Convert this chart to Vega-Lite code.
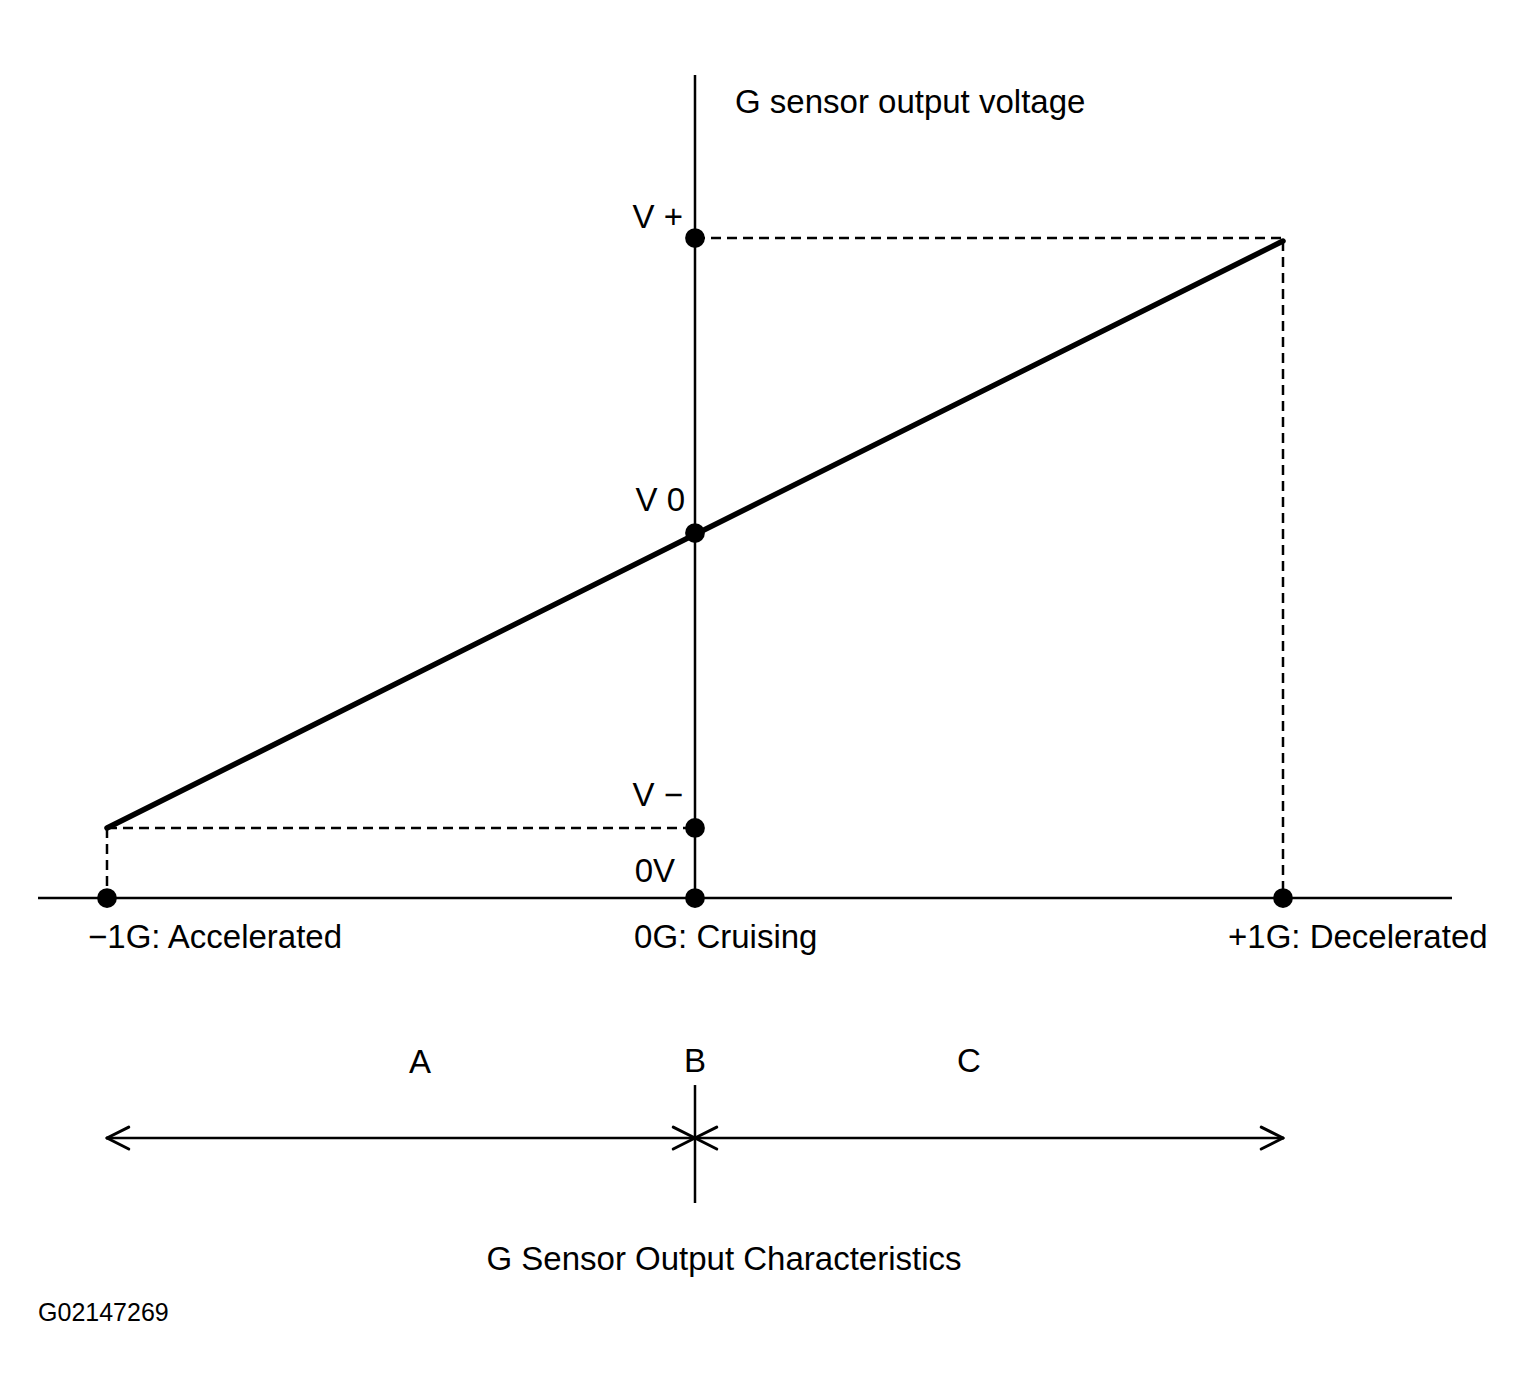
{
  "$schema": "https://vega.github.io/schema/vega-lite/v6.json",
  "width": 1529,
  "height": 1397,
  "autosize": {"type": "fit", "contains": "padding"},
  "padding": 0,
  "background": "white",
  "config": {"view": {"stroke": null}},
  "datasets": {
    "lines": [
      {"g": -1.1173, "v": 0, "g2": 1.2874, "v2": 0, "kind": "thin"},
      {"g": 0, "v": 0, "g2": 0, "v2": 5.637, "kind": "thin"},
      {"g": 0, "v": -1.281, "g2": 0, "v2": -2.089, "kind": "thin"},
      {"g": -1, "v": -1.644, "g2": 1, "v2": -1.644, "kind": "thin"},
      {"g": -1, "v": -1.644, "g2": -0.963, "v2": -1.569, "kind": "head"},
      {"g": -1, "v": -1.644, "g2": -0.963, "v2": -1.719, "kind": "head"},
      {"g": 0, "v": -1.644, "g2": -0.037, "v2": -1.569, "kind": "head"},
      {"g": 0, "v": -1.644, "g2": -0.037, "v2": -1.719, "kind": "head"},
      {"g": 0, "v": -1.644, "g2": 0.037, "v2": -1.569, "kind": "head"},
      {"g": 0, "v": -1.644, "g2": 0.037, "v2": -1.719, "kind": "head"},
      {"g": 1, "v": -1.644, "g2": 0.963, "v2": -1.569, "kind": "head"},
      {"g": 1, "v": -1.644, "g2": 0.963, "v2": -1.719, "kind": "head"},
      {"g": -1, "v": 0.48, "g2": 0, "v2": 0.48, "kind": "dashed"},
      {"g": -1, "v": 0.48, "g2": -1, "v2": 0, "kind": "dashed"},
      {"g": 0, "v": 4.52, "g2": 1, "v2": 4.52, "kind": "dashed"},
      {"g": 1, "v": 4.5, "g2": 1, "v2": 0, "kind": "dashed"},
      {"g": -1, "v": 0.48, "g2": 1, "v2": 4.5, "kind": "thick"}
    ],
    "dots": [
      {"g": -1, "v": 0},
      {"g": 0, "v": 0},
      {"g": 1, "v": 0},
      {"g": 0, "v": 0.48},
      {"g": 0, "v": 2.5},
      {"g": 0, "v": 4.52}
    ],
    "labels": [
      {"g": 0.068, "v": 5.377, "label": "G sensor output voltage", "role": "left"},
      {"g": -0.0204, "v": 4.589, "label": "V +", "role": "right"},
      {"g": -0.017, "v": 2.651, "label": "V 0", "role": "right"},
      {"g": -0.0204, "v": 0.63, "label": "V −", "role": "right"},
      {"g": -0.034, "v": 0.1096, "label": "0V", "role": "right"},
      {"g": -1.0323, "v": -0.342, "label": "−1G: Accelerated", "role": "left"},
      {"g": -0.1037, "v": -0.342, "label": "0G: Cruising", "role": "left"},
      {"g": 0.9065, "v": -0.342, "label": "+1G: Decelerated", "role": "left"},
      {"g": -0.4677, "v": -1.199, "label": "A", "role": "center"},
      {"g": 0, "v": -1.192, "label": "B", "role": "center"},
      {"g": 0.466, "v": -1.195, "label": "C", "role": "center"},
      {"g": 0.0493, "v": -2.548, "label": "G Sensor Output Characteristics", "role": "center"},
      {"g": -1.1173, "v": -2.897, "label": "G02147269", "role": "small"}
    ]
  },
  "encoding": {
    "x": {"field": "g", "type": "quantitative", "axis": null,
          "scale": {"domain": [-1.18197, 1.41837], "nice": false, "zero": false}},
    "y": {"field": "v", "type": "quantitative", "axis": null,
          "scale": {"domain": [-3.4178, 6.1507], "nice": false, "zero": false}}
  },
  "layer": [
    {
      "data": {"name": "lines"},
      "transform": [{"filter": "datum.kind === 'thin'"}],
      "mark": {"type": "rule", "stroke": "black", "strokeWidth": 2.5},
      "encoding": {"x2": {"field": "g2"}, "y2": {"field": "v2"}}
    },
    {
      "data": {"name": "lines"},
      "transform": [{"filter": "datum.kind === 'head'"}],
      "mark": {"type": "rule", "stroke": "black", "strokeWidth": 3, "strokeCap": "round"},
      "encoding": {"x2": {"field": "g2"}, "y2": {"field": "v2"}}
    },
    {
      "data": {"name": "lines"},
      "transform": [{"filter": "datum.kind === 'dashed'"}],
      "mark": {"type": "rule", "stroke": "black", "strokeWidth": 2.5, "strokeDash": [10, 6]},
      "encoding": {"x2": {"field": "g2"}, "y2": {"field": "v2"}}
    },
    {
      "data": {"name": "lines"},
      "transform": [{"filter": "datum.kind === 'thick'"}],
      "mark": {"type": "rule", "stroke": "black", "strokeWidth": 5.5, "strokeCap": "round"},
      "encoding": {"x2": {"field": "g2"}, "y2": {"field": "v2"}}
    },
    {
      "data": {"name": "dots"},
      "mark": {"type": "point", "shape": "circle", "filled": true, "fill": "black", "opacity": 1, "size": 390}
    },
    {
      "data": {"name": "labels"},
      "transform": [{"filter": "datum.role === 'left'"}],
      "mark": {"type": "text", "align": "left", "baseline": "alphabetic", "font": "Liberation Sans", "fontSize": 33, "fill": "black"},
      "encoding": {"text": {"field": "label"}}
    },
    {
      "data": {"name": "labels"},
      "transform": [{"filter": "datum.role === 'right'"}],
      "mark": {"type": "text", "align": "right", "baseline": "alphabetic", "font": "Liberation Sans", "fontSize": 33, "fill": "black"},
      "encoding": {"text": {"field": "label"}}
    },
    {
      "data": {"name": "labels"},
      "transform": [{"filter": "datum.role === 'center'"}],
      "mark": {"type": "text", "align": "center", "baseline": "alphabetic", "font": "Liberation Sans", "fontSize": 33, "fill": "black"},
      "encoding": {"text": {"field": "label"}}
    },
    {
      "data": {"name": "labels"},
      "transform": [{"filter": "datum.role === 'small'"}],
      "mark": {"type": "text", "align": "left", "baseline": "alphabetic", "font": "Liberation Sans", "fontSize": 25, "fill": "black"},
      "encoding": {"text": {"field": "label"}}
    }
  ]
}
